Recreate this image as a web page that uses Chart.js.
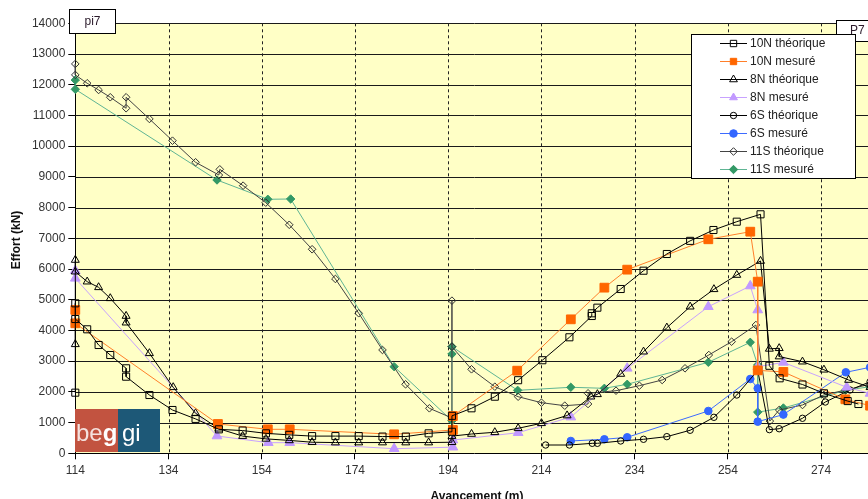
<!DOCTYPE html>
<html>
<head>
<meta charset="utf-8">
<script src="https://cdn.jsdelivr.net/npm/chart.js@4.4.1/dist/chart.umd.min.js"></script>
<style>
  html, body { margin: 0; padding: 0; overflow: hidden; background: #fff; }
  #wrap { width: 881px; height: 506px; position: relative; }
</style>
</head>
<body>
<div id="wrap"><canvas id="c" width="881" height="506"></canvas></div>
<script>
// Axis ticks
const xTickValues = [114, 134, 154, 174, 194, 214, 234, 254, 274];
const yTickStep = 1000;

// 10N théorique
const n10TheoX = [114, 114, 114, 116.55, 119.0, 121.5, 124.9, 124.9, 129.9, 134.85, 139.8, 144.8, 149.9, 154.9, 159.9, 164.8, 169.8, 174.8, 179.9, 184.9, 189.8, 194.8, 194.8, 199.0, 204.0, 209.0, 214.2, 220.0, 224.8, 224.8, 226.0, 231.0, 235.9, 240.9, 245.9, 250.9, 255.9, 261.0, 262.9, 265.1, 270.0, 274.6, 279.7, 282.0];
const n10TheoY = [1974, 4883, 4372, 4037, 3526, 3200, 2767, 2494, 1898, 1410, 1120, 780, 740, 650, 600, 560, 560, 560, 545, 545, 650, 700, 1220, 1465, 1843, 2380, 3030, 3777, 4470, 4558, 4741, 5349, 5945, 6489, 6917, 7270, 7541, 7781, 2850, 2442, 2240, 1953, 1700, 1605];

// 10N mesuré
const n10MesX = [114, 114, 144.6, 155.3, 160.0, 182.4, 195.0, 195.0, 208.8, 220.3, 227.5, 232.4, 249.8, 258.8, 260.4, 260.4, 265.9, 279.2, 284.5];
const n10MesY = [4666, 4232, 954, 781, 781, 618, 759, 1214, 2690, 4362, 5393, 5979, 6968, 7215, 5588, 2700, 2650, 1758, 1550];

// 8N théorique
const n8TheoX = [114, 114, 114, 116.55, 119.0, 121.5, 124.9, 124.9, 129.9, 135.0, 139.8, 144.8, 149.9, 154.9, 159.9, 164.8, 169.8, 174.8, 179.9, 184.9, 189.8, 194.8, 194.8, 199.0, 204.0, 209.0, 214.0, 219.5, 224.6, 226.0, 231.0, 235.9, 240.9, 245.9, 251.0, 255.9, 261.0, 262.9, 265.0, 265.0, 270.0, 274.6, 279.9, 284.5];
const n8TheoY = [3549, 6294, 5913, 5588, 5404, 5046, 4470, 4253, 3256, 2149, 1302, 800, 560, 470, 420, 360, 350, 350, 350, 350, 350, 360, 560, 628, 684, 814, 977, 1230, 1843, 1921, 2582, 3308, 4090, 4773, 5340, 5805, 6261, 3400, 3420, 3150, 2983, 2720, 2387, 2150];

// 8N mesuré
const n8MesX = [114, 114, 144.4, 155.4, 160.0, 182.4, 195.0, 195.0, 209.0, 220.3, 232.4, 249.8, 258.8, 260.4, 260.4, 265.9, 279.5, 284.5];
const n8MesY = [5946, 5697, 563, 346, 346, 150, 200, 430, 671, 1180, 2767, 4773, 5447, 4666, 2820, 2960, 2150, 1950];

// 6S théorique
const s6TheoX = [214.9, 220.0, 224.9, 226.0, 231.0, 235.9, 240.9, 245.9, 251.0, 255.9, 260.4, 262.9, 265.0, 270.0, 274.9, 280.2, 284.5];
const s6TheoY = [270, 270, 325, 325, 401, 456, 542, 750, 1172, 1898, 2700, 770, 800, 1140, 1670, 2061, 2330];

// 6S mesuré
const s6MesX = [220.3, 227.5, 232.4, 249.8, 258.8, 260.4, 260.4, 265.9, 279.3, 284.5];
const s6MesY = [401, 456, 521, 1378, 2420, 2116, 1030, 1260, 2637, 2800];

// 11S théorique
const s11TheoX = [114, 114, 116.55, 119.0, 121.5, 124.9, 124.9, 129.9, 134.85, 139.8, 144.8, 145.0, 150.0, 154.85, 159.9, 164.8, 169.8, 174.8, 179.9, 184.85, 189.96, 194.8, 194.8, 194.8, 199.0, 204.0, 209.0, 214.0, 219.0, 224.0, 224.0, 230.0, 235.0, 239.9, 244.8, 249.9, 254.8, 260.0, 263.0, 265.0, 270.0, 274.6, 279.3, 284.5];
const s11TheoY = [12677, 12320, 12048, 11830, 11592, 11234, 11592, 10886, 10178, 9475, 9060, 9246, 8714, 8161, 7440, 6643, 5676, 4559, 3364, 2247, 1465, 1150, 4970, 3471, 2735, 2169, 1843, 1648, 1550, 1605, 1953, 2038, 2201, 2387, 2767, 3200, 3634, 4177, 1050, 1410, 1573, 1900, 2061, 2250];

// 11S mesuré
const s11MesX = [114, 114, 144.4, 155.3, 160.2, 182.4, 194.8, 194.8, 194.8, 208.9, 220.3, 227.5, 232.4, 249.8, 258.8, 260.4, 260.4, 265.9, 279.2, 284.5];
const s11MesY = [12153, 11851, 8898, 8270, 8280, 2820, 1061, 3233, 3471, 2050, 2149, 2116, 2247, 2963, 3614, 2875, 1340, 1475, 2050, 2170];

const PLOT_BG = '#FFFFC6';
const FONT = '"Liberation Sans", Arial, sans-serif';

function pts(xs, ys) { return xs.map((x, i) => ({ x: x, y: ys[i] })); }

function series(label, xs, ys, line, marker, fill, style, radius, lineWidth) {
  return {
    label: label,
    data: pts(xs, ys),
    borderColor: line,
    borderWidth: lineWidth || 1,
    pointStyle: style,
    pointRadius: radius,
    pointBorderColor: marker,
    pointBackgroundColor: fill,
    pointBorderWidth: 1,
    tension: 0,
    clip: 8
  };
}

const OPEN = 'rgba(0,0,0,0)';
const datasets = [
  series('10N théorique', n10TheoX, n10TheoY, '#000000', '#000000', OPEN, 'rect', 5),
  series('10N mesuré', n10MesX, n10MesY, '#FF7F2A', '#FF6600', '#FF6600', 'rect', 6.2),
  series('8N théorique', n8TheoX, n8TheoY, '#000000', '#000000', OPEN, 'triangle', 4.6),
  series('8N mesuré', n8MesX, n8MesY, '#C8A2FF', '#C199FF', '#C199FF', 'triangle', 5.6),
  series('6S théorique', s6TheoX, s6TheoY, '#000000', '#000000', OPEN, 'circle', 3.2),
  series('6S mesuré', s6MesX, s6MesY, '#3D6BFF', '#3366FF', '#3366FF', 'circle', 3.8),
  series('11S théorique', s11TheoX, s11TheoY, '#444444', '#333333', OPEN, 'rectRot', 3.8),
  series('11S mesuré', s11MesX, s11MesY, '#5FB594', '#339966', '#339966', 'rectRot', 4.2)
];

// Background, grid lines, boxes, legend and axis titles
const decor = {
  id: 'decor',
  beforeDraw(chart) {
    const { ctx, chartArea: a } = chart;
    ctx.save();
    ctx.fillStyle = '#ffffff';
    ctx.fillRect(0, 0, chart.width, chart.height);
    ctx.fillStyle = PLOT_BG;
    ctx.fillRect(a.left, a.top, a.right - a.left, a.bottom - a.top);
    ctx.restore();
  },
  beforeDatasetsDraw(chart) {
    const { ctx, chartArea: a, scales: { x, y } } = chart;
    ctx.save();
    ctx.lineWidth = 1;
    // horizontal solid lines
    ctx.strokeStyle = '#1a1a1a';
    for (let v = yTickStep; v <= 14000; v += yTickStep) {
      const py = Math.round(y.getPixelForValue(v)) + 0.5;
      ctx.beginPath(); ctx.moveTo(a.left, py); ctx.lineTo(a.right, py); ctx.stroke();
    }
    // vertical dashed lines
    ctx.setLineDash([3, 3]);
    ctx.strokeStyle = '#222222';
    xTickValues.slice(1).forEach(v => {
      const px = Math.round(x.getPixelForValue(v)) + 0.5;
      ctx.beginPath(); ctx.moveTo(px, a.top); ctx.lineTo(px, a.bottom); ctx.stroke();
    });
    ctx.restore();
  },
  afterDatasetsDraw(chart) {
    const { ctx } = chart;
    ctx.save();

    // logo
    ctx.fillStyle = '#C25340';
    ctx.fillRect(75, 409, 43, 43);
    ctx.fillStyle = '#1D5877';
    ctx.fillRect(118, 409, 42, 43);
    ctx.textBaseline = 'alphabetic';
    ctx.textAlign = 'left';
    ctx.font = '24px ' + FONT;
    ctx.fillStyle = '#F5E2DE';
    ctx.fillText('be', 76, 441);
    const wBe = ctx.measureText('be').width;
    ctx.font = 'bold 24px ' + FONT;
    ctx.fillStyle = '#ffffff';
    ctx.fillText('g', 76 + wBe, 441);
    ctx.font = '24px ' + FONT;
    ctx.fillText('gi', 122, 441);

    // section boxes
    ctx.lineWidth = 1;
    ctx.strokeStyle = '#000';
    ctx.fillStyle = '#fff';
    ctx.fillRect(69.5, 9.5, 46, 24);
    ctx.strokeRect(69.5, 9.5, 46, 24);
    ctx.fillRect(836.5, 20.5, 60, 21);
    ctx.strokeRect(836.5, 20.5, 60, 21);
    ctx.fillStyle = '#2a1a2a';
    ctx.font = '12px ' + FONT;
    ctx.textAlign = 'center';
    ctx.textBaseline = 'middle';
    ctx.fillText('pi7', 92.5, 21.5);
    ctx.textAlign = 'left';
    ctx.fillText('P7', 850, 31);

    // legend
    ctx.fillStyle = '#fff';
    ctx.fillRect(691.5, 34.5, 164, 144);
    ctx.strokeRect(691.5, 34.5, 164, 144);
    const rowY = [43.5, 61.5, 79.5, 97.5, 115.5, 133.5, 151.5, 169.5];
    chart.data.datasets.forEach((ds, i) => {
      const yy = rowY[i];
      ctx.strokeStyle = ds.borderColor;
      ctx.lineWidth = 1;
      ctx.beginPath(); ctx.moveTo(720, yy); ctx.lineTo(747, yy); ctx.stroke();
      ctx.strokeStyle = ds.pointBorderColor;
      ctx.fillStyle = ds.pointBackgroundColor;
      Chart.helpers.drawPoint(ctx, {
        pointStyle: ds.pointStyle,
        radius: Math.min(ds.pointRadius, 4.5),
        rotation: 0,
        borderWidth: 1
      }, 733.5, yy);
      ctx.fillStyle = '#222';
      ctx.font = '12px ' + FONT;
      ctx.textAlign = 'left';
      ctx.textBaseline = 'middle';
      ctx.fillText(ds.label, 750, yy + 0.5);
    });

    // axis titles
    ctx.fillStyle = '#111';
    ctx.font = 'bold 12px ' + FONT;
    ctx.textAlign = 'center';
    ctx.textBaseline = 'middle';
    ctx.fillText('Avancement (m)', 477, 497);
    ctx.translate(17, 240);
    ctx.rotate(-Math.PI / 2);
    ctx.fillText('Effort (kN)', 0, 0);
    ctx.restore();
  }
};

new Chart(document.getElementById('c'), {
  type: 'line',
  data: { datasets: datasets },
  plugins: [decor],
  options: {
    responsive: false,
    animation: false,
    events: [],
    layout: { padding: { top: 23.3, left: 0, right: 0, bottom: 0 } },
    plugins: { legend: { display: false }, tooltip: { enabled: false } },
    scales: {
      x: {
        type: 'linear',
        min: 114,
        max: 285.3,
        afterBuildTicks: s => { s.ticks = xTickValues.map(v => ({ value: v })); },
        afterFit: s => { s.height = 52.7; },
        grid: { drawOnChartArea: false, drawTicks: true, tickLength: 6, color: '#000' },
        border: { display: true, color: '#000', width: 1 },
        ticks: { padding: 4, color: '#333', font: { size: 12, family: FONT }, maxRotation: 0, autoSkip: false, callback: v => String(v) }
      },
      y: {
        min: 0,
        max: 14000,
        afterFit: s => { s.width = 75.3; },
        grid: { drawOnChartArea: false, drawTicks: true, tickLength: 7, color: '#000' },
        border: { display: true, color: '#000', width: 1 },
        ticks: { stepSize: yTickStep, padding: 3, color: '#333', font: { size: 12, family: FONT }, callback: v => String(v) }
      }
    }
  }
});
</script>
</body>
</html>
